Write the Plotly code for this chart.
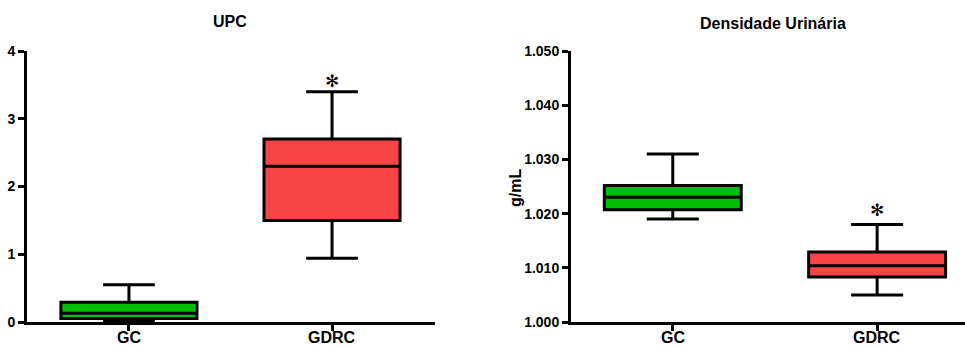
import plotly.graph_objects as go

# Groups and box-plot summaries (whisker min, Q1, median, Q3, whisker max)
groups = ["GC", "GDRC"]
group_pos = [0, 1]

upc_lower = [0.02, 0.94]
upc_q1 = [0.05, 1.50]
upc_median = [0.13, 2.30]
upc_q3 = [0.29, 2.70]
upc_upper = [0.55, 3.40]

dens_lower = [1.019, 1.005]
dens_q1 = [1.0207, 1.0083]
dens_median = [1.0230, 1.0104]
dens_q3 = [1.0252, 1.0129]
dens_upper = [1.031, 1.018]

upc_ticks = [0, 1, 2, 3, 4]
dens_ticks = [1.000, 1.010, 1.020, 1.030, 1.040, 1.050]

fills = ["#00BF00", "#F74444"]
FONT = "Liberation Sans, Arial, sans-serif"

fig = go.Figure()


def add_boxes(xref, yref, lo, q1, med, q3, hi):
    for i, g in enumerate(groups):
        fig.add_trace(go.Box(
            x=[group_pos[i]], lowerfence=[lo[i]], q1=[q1[i]], median=[med[i]],
            q3=[q3[i]], upperfence=[hi[i]], name=g,
            width=0.67, whiskerwidth=0.38, boxpoints=False,
            fillcolor=fills[i], line=dict(color="black", width=3),
            xaxis=xref, yaxis=yref, showlegend=False, hoverinfo="skip",
        ))


add_boxes("x", "y", upc_lower, upc_q1, upc_median, upc_q3, upc_upper)
add_boxes("x2", "y2", dens_lower, dens_q1, dens_median, dens_q3, dens_upper)

axis_common = dict(
    showline=True, linecolor="black", linewidth=3, showgrid=False, zeroline=False,
    ticks="outside", ticklen=6, tickwidth=3, tickcolor="black", automargin=False,
)

L, R, T, B, W, H = 27, 0, 51, 25, 965, 347
PW = W - L - R
PH = H - T - B


def px_x(p):
    return (p - L) / PW


def px_y(p):
    return (H - B - p) / PH


ytick_font = dict(family=FONT, size=14, color="black", weight="bold")

fig.update_layout(
    width=W, height=H, margin=dict(l=L, r=R, t=T, b=B),
    paper_bgcolor="white", plot_bgcolor="white", boxmode="overlay",
    xaxis=dict(domain=[0, px_x(435)], range=[-0.502, 1.507], tickvals=group_pos,
               showticklabels=False, anchor="y", **axis_common),
    yaxis=dict(domain=[0, 1], range=[0, 4], tickvals=upc_ticks,
               tickfont=ytick_font, anchor="x", **axis_common),
    xaxis2=dict(domain=[px_x(571), 1], range=[-0.498, 1.43], tickvals=group_pos,
                showticklabels=False, anchor="y2", **axis_common),
    yaxis2=dict(domain=[0, 1], range=[1.000, 1.050], tickvals=dens_ticks, tickformat=".3f",
                tickfont=ytick_font, anchor="x2", **axis_common),
)

# Category labels under each x axis
xlabel_font = dict(family=FONT, size=16, color="black", weight="bold")
for xref in ("x", "x2"):
    for pos, g in zip(group_pos, groups):
        fig.add_annotation(text=g, x=pos, xref=xref, y=px_y(346.5), yref="paper",
                           showarrow=False, font=xlabel_font, borderpad=0,
                           xanchor="center", yanchor="bottom")

title_font = dict(family=FONT, size=16, color="black", weight="bold")
fig.add_annotation(text="UPC", xref="paper", yref="paper", x=px_x(230), y=px_y(22),
                   showarrow=False, font=title_font, xanchor="center", yanchor="middle")
fig.add_annotation(text="Densidade Urinária", xref="paper", yref="paper", x=px_x(773),
                   y=px_y(23), showarrow=False, font=title_font,
                   xanchor="center", yanchor="middle")
fig.add_annotation(text="g/mL", xref="paper", yref="paper", x=px_x(515), y=px_y(188),
                   showarrow=False, textangle=-90, font=title_font,
                   xanchor="center", yanchor="middle")

# Significance markers above the GDRC whiskers
star_font = dict(family="DejaVu Sans", size=17, color="black")
fig.add_annotation(text="✻", x=1, y=upc_upper[1], xref="x", yref="y", showarrow=False,
                   font=star_font, xanchor="center", yanchor="middle", yshift=11)
fig.add_annotation(text="✻", x=1, y=dens_upper[1], xref="x2", yref="y2", showarrow=False,
                   font=star_font, xanchor="center", yanchor="middle", yshift=14)

fig.write_html("out.html")
